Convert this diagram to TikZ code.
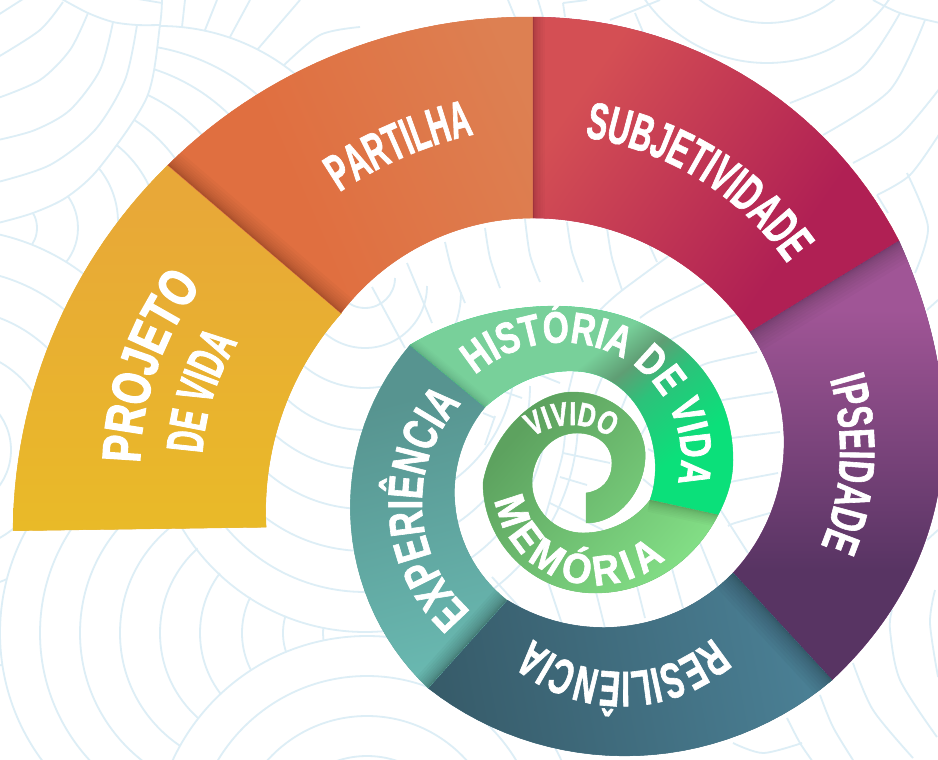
\documentclass[tikz,border=0pt]{standalone}
\usepackage{fontspec}
\usetikzlibrary{decorations.text}
\newfontfamily\fPro[FakeStretch=0.74,FakeBold=2.4,UprightFont=* Bold]{Liberation Sans}
\newfontfamily\fDev[FakeStretch=0.56,FakeBold=1.6,UprightFont=* Bold]{Liberation Sans}
\newfontfamily\fPar[FakeStretch=0.56,FakeBold=1.3,UprightFont=* Bold]{Liberation Sans}
\newfontfamily\fSub[FakeStretch=0.59,FakeBold=1.2,UprightFont=* Bold]{Liberation Sans}
\newfontfamily\fIps[FakeStretch=0.63,FakeBold=1.2,UprightFont=* Bold]{Liberation Sans}
\newfontfamily\fRes[FakeStretch=0.62,FakeBold=1.2,UprightFont=* Bold]{Liberation Sans}
\newfontfamily\fExp[FakeStretch=0.70,FakeBold=1.3,UprightFont=* Bold]{Liberation Sans}
\newfontfamily\fHis[FakeStretch=0.76,FakeBold=1.6,UprightFont=* Bold]{Liberation Sans}
\newfontfamily\fMem[FakeStretch=0.90,FakeBold=1.6,UprightFont=* Bold]{Liberation Sans}
\newfontfamily\fViv[FakeStretch=0.74,FakeBold=1.6,UprightFont=* Bold]{Liberation Sans}
\definecolor{bgl}{HTML}{DDEEF6}
\tikzset{bgline/.style={draw=bgl,line width=1.8pt}}
\newcommand\mkgrad[3]{\definecolor{g#1a}{HTML}{#2}\definecolor{g#1b}{HTML}{#3}%
 \pgfdeclarehorizontalshading{#1}{100bp}{color(0bp)=(g#1a);color(41.67bp)=(g#1a);color(58.33bp)=(g#1b);color(100bp)=(g#1b)}}
\mkgrad{gA}{E8A838}{E9BA28}
\mkgrad{gB}{E06F40}{DD8052}
\mkgrad{gC}{D44F54}{B02054}
\mkgrad{gD}{A05596}{583463}
\mkgrad{gE}{365A68}{4A7F94}
\mkgrad{gF}{579490}{69B8B0}
\mkgrad{gH}{5DA25F}{83DF86}
\definecolor{hA}{HTML}{78D09A}\definecolor{hB}{HTML}{5F9E74}\definecolor{hC}{HTML}{2CC27A}\definecolor{hD}{HTML}{0BE07A}
\definecolor{ggGa}{HTML}{78D09A}\definecolor{ggGb}{HTML}{0BE07A}
\pgfdeclarehorizontalshading{gG}{100bp}{color(0bp)=(hA);color(41.67bp)=(hA);color(48.2bp)=(hA);color(50.6bp)=(hB);color(53.2bp)=(hC);color(58.33bp)=(hD);color(100bp)=(hD)}
% polar helper: centre, r0, r1, angle0, angle1 (screen clockwise)
\def\pol#1#2#3#4#5#6{plot[domain=#5:#6,samples=30] ({#1+(#3+(#4-#3)*(\noexpand\x-(#5))/((#6)-(#5)))*cos(\noexpand\x)},{#2+(#3+(#4-#3)*(\noexpand\x-(#5))/((#6)-(#5)))*sin(\noexpand\x)})}
\edef\pA{\pol{533}{528}{520}{514.8}{179.7}{224.8} -- \pol{560}{520}{301}{294}{223.4}{178.6} -- cycle}
\edef\pB{\pol{533}{528}{514.8}{511}{224.8}{270} -- \pol{533}{459.5}{241.5}{241.5}{270}{217.3} -- cycle}
\edef\pC{\pol{533}{429}{412}{411.5}{270}{332.8} -- \pol{533}{481.5}{263.5}{263.5}{325.4}{270} -- cycle}
\edef\pD{(899,241) .. controls (975,410) and (955,565) .. (832,680) -- \pol{590}{450}{188.6}{198.8}{40.7}{-36.4} -- cycle}
\edef\pE{\pol{622}{436}{322}{318}{49.3}{127.6} -- \pol{606}{445.5}{183.5}{180}{122.6}{45.1} -- cycle}
\edef\pF{\pol{600}{510}{247.5}{251.6}{134}{221} -- \pol{590}{490}{133.8}{138}{218.3}{127} -- cycle}
\def\pG{(410,345) .. controls (465,312) and (530,303) .. (575,307) .. controls (660,313) and (733,370) .. (733,460) .. controls (733,480) and (727,498) .. (718,515) -- (650,500) .. controls (668,450) and (640,372) .. (573,371) .. controls (540,370) and (510,385) .. (485,407) -- cycle}
\def\pH{(718,515) .. controls (695,560) and (650,593) .. (595,593) .. controls (533,593) and (483,543) .. (483,483) .. controls (490,440) and (530,392) .. (573,392) .. controls (615,392) and (648,425) .. (645,460) .. controls (643,490) and (620,523) .. (586,523) -- (586,493) .. controls (602,491) and (612,480) .. (612,463) .. controls (612,445) and (597,433) .. (577,433) .. controls (552,433) and (532,455) .. (532,483) .. controls (532,510) and (555,533) .. (583,533) .. controls (610,533) and (635,520) .. (650,500) -- cycle}
\newcommand\band[6]{%
 \pgfmathsetmacro\gL{veclen(#5-#3,#6-#4)}\pgfmathsetmacro\gAng{atan2(-(#6-#4),#5-#3)}%
 \fill[g#2a!50!g#2b,draw=g#2a!50!g#2b,line width=.4pt] #1;%
 \clip #1;
 \shade[shading=#2,transform canvas={rotate around={\gAng:(#3,#4)}}] ({#3-\gL},{#4-1100}) rectangle ({#3+2*\gL},{#4+1100});%
}
\newcommand\seam[6]{%
 \pgfmathsetmacro\sL{veclen(#3-#1,#4-#2)}%
 \foreach \si in {1,...,12}{%
  \pgfmathsetmacro\sW{#5*\si*\si/144/\sL}%
  \pgfmathsetmacro\sX{-(#4-#2)*\sW}\pgfmathsetmacro\sY{(#3-#1)*\sW}%
  \fill[black,opacity=#6] (#1,#2) -- (#3,#4) -- ({#3+\sX},{#4+\sY}) -- ({#1+\sX},{#2+\sY}) -- cycle;}%
}
% label along a spiral: cx cy r0 r1 a b size font text; the path runs 40px past both ends
\newcommand\spiT[9]{%
 \pgfmathsetmacro\dExt{sign(#6-#5)*2300/(#3+#4)*2}%
 \pgfmathsetmacro\dA{#5-\dExt}\pgfmathsetmacro\dB{#6+\dExt}%
 \path[decorate,decoration={text along path,text align=center,
  text={|#8\fontsize{#7}{#7}\selectfont\color{white}|#9}}]
  plot[domain=\dA:\dB,samples=50] ({#1+(#3+(#4-#3)*(\x-#5)/(#6-#5))*cos(\x)},{#2+(#3+(#4-#3)*(\x-#5)/(#6-#5))*sin(\x)});}
\newcommand\ringdisc[4]{\fill[white] (#1,#2) circle[radius=#3];\foreach \r in {#4}{\draw[bgline] (#1,#2) circle[radius=\r];}}
\newcommand\bgc[1]{\draw[bgline] plot[smooth] coordinates {#1};}
\begin{document}
\begin{tikzpicture}[x=1pt,y=-1pt]
\useasboundingbox (0,0) rectangle (938,760);
\clip (0,0) rectangle (938,760);
\fill[white] (0,0) rectangle (938,760);
% --- background scales: top right
\ringdisc{767}{-86}{149}{109,149}
\bgc{(790,103)(860,70)(900,13)}
\bgc{(823,135)(890,90)(925,20)}
\bgc{(853,163)(900,135)(940,88)}
\bgc{(877,195)(910,175)(940,133)}
\bgc{(873,0)(900,13)(940,23)}
\bgc{(907,173)(928,227)(915,273)}
\bgc{(877,195)(888,213)}
\bgc{(610,20)(660,0)}
\bgc{(635,13)(643,32)}
\bgc{(563,3)(587,0)}
\bgc{(563,3)(565,17)}
\bgc{(538,0)(543,17)}
\bgc{(508,0)(515,17)}
\bgc{(927,310)(938,300)}
\bgc{(927,540)(938,530)}
% top middle fan
\bgc{(182,27)(185,0)}
\bgc{(205,30)(217,0)}
\bgc{(230,37)(250,0)}
\bgc{(257,50)(300,0)}
\bgc{(282,67)(320,35)(360,27)}
\begin{scope}
\clip (0,0) rectangle (300,330);
\ringdisc{160}{240}{214}{214}
\draw[bgline] (120,255) circle[radius=211];
\draw[bgline] (95,252) circle[radius=192];
\draw[bgline] (72,255) circle[radius=177];
\draw[bgline] (55,245) circle[radius=148];
\draw[bgline] (45,235) circle[radius=115];
\draw[bgline] (33,222) circle[radius=85];
\draw[bgline] (23,228) circle[radius=55];
\draw[bgline] (7,228) circle[radius=30];
\end{scope}
% top left
\fill[white] plot[smooth] coordinates {(162,-2)(160,25)(147,97)(100,167)(67,197)(33,213)(-2,223)} -- (-2,-2) -- cycle;
\bgc{(162,-2)(160,25)(147,97)(100,167)(67,197)(33,213)(-2,223)}
\bgc{(137,25)(125,80)(95,130)(50,165)(-2,182)}
\bgc{(113,22)(100,70)(70,110)(35,130)(-2,140)}
\bgc{(88,13)(70,50)(40,80)(-2,98)}
\bgc{(63,2)(40,30)(-2,57)}
\bgc{(23,-1)(-2,15)}
\bgc{(60,-2)(88,13)(113,22)(137,25)(160,25)}
\bgc{(138,-1)(162,3)}
% left
\ringdisc{-50}{450}{221}{221,181,141,101,61}
% left lens fan
\fill[white] (214,633) circle[radius=214];
\foreach \x/\R in {323/50,283/60,242/81,200/100,160/114,120/136,80/162,40/188,0/214}{
 \draw[bgline] ({\x+\R},{633-\R}) arc[start angle=-90,end angle=-270,radius=\R];
}
% central fan (lower half arcs)
\fill[white] (367,419) circle[radius=213];
\foreach \yb/\R in {632/213,592/182,551/165,509/150,469/136,430/114,388/96,348/62,308/30}{
 \draw[bgline] ({365+\R},{\yb-\R}) arc[start angle=0,end angle=180,radius=\R];
}
\ringdisc{367}{850}{214}{214,174,134,94}
% lines seen in the white gaps
\bgc{(372,287)(405,348)}
\bgc{(407,263)(432,323)}
\bgc{(445,242)(452,270)(465,303)}
\bgc{(485,228)(490,258)(500,288)}
\bgc{(525,219)(530,255)(540,282)}
\bgc{(567,222)(572,252)(583,282)}
\bgc{(607,228)(612,258)(622,290)}
\bgc{(648,242)(657,262)}
\bgc{(600,310)(620,292)(670,255)}
\bgc{(640,318)(655,308)(707,282)}
\bgc{(670,340)(685,333)(737,314)}
\bgc{(690,372)(708,363)(757,352)}
\bgc{(712,404)(723,400)(773,392)}
\bgc{(725,440)(732,438)(780,432)}
\bgc{(720,484)(730,482)(778,473)}
\bgc{(728,526)(735,523)(770,513)}
\bgc{(718,506)(748,553)}
\bgc{(698,538)(718,587)}
\bgc{(671,565)(683,608)}
\bgc{(636,582)(645,618)}
\bgc{(595,588)(605,628)}
\bgc{(548,582)(563,627)}
\bgc{(492,577)(520,608)}
\bgc{(540,375)(560,383)}
\bgc{(505,392)(522,398)}
\bgc{(483,413)(495,418)}
\bgc{(574,369)(568,393)}
\bgc{(603,375)(595,395)}
\bgc{(629,390)(620,412)}
\bgc{(649,421)(640,437)}
\bgc{(648,449)(662,456)}
\bgc{(643,479)(655,489)}
\bgc{(495,416)(485,445)}
\bgc{(565,435)(562,457)(550,500)(545,517)}
\bgc{(563,453)(610,463)}
\bgc{(560,477)(587,485)}
\bgc{(550,503)(603,530)}
% lower right
\bgc{(892,610)(890,630)(900,680)(937,737)}
\bgc{(935,590)(930,623)(938,677)}
\bgc{(853,663)(873,710)(913,758)}
\bgc{(820,695)(833,727)(853,760)}
\bgc{(787,718)(800,743)(813,762)}
\bgc{(733,743)(763,753)(802,743)}
% --- main spiral
\begin{scope}\band{\pA}{gA}{200}{200}{200}{530}\end{scope}
\begin{scope}\band{\pB}{gB}{300}{200}{530}{100}\seam{341}{313}{168}{165}{18}{.022}\end{scope}
\begin{scope}\band{\pC}{gC}{575}{100}{790}{250}\seam{533}{218}{533}{17}{12}{.02}\end{scope}
\begin{scope}\band{\pD}{gD}{800}{310}{800}{570}\seam{750}{332}{899}{241}{22}{.025}\end{scope}
\begin{scope}\band{\pE}{gE}{430}{720}{800}{650}\seam{733}{573}{832}{680}{22}{.028}\end{scope}
\begin{scope}\band{\pF}{gF}{400}{400}{470}{660}\seam{507}{600}{428}{688}{16}{.03}\end{scope}
\begin{scope}\band{\pG}{gG}{540}{290}{675}{458}\seam{485}{407}{410}{345}{9}{.012}\end{scope}
\begin{scope}
 \band{\pH}{gH}{520}{430}{680}{570}
 \seam{650}{500}{718}{515}{12}{.02}
\end{scope}
% --- labels
\spiT{440}{468}{300}{300}{181.5}{216.9}{54}{\fPro}{PROJETO}
\spiT{440}{468}{238}{238}{183.6}{211.8}{52}{\fDev}{DE VIDA}
\spiT{560}{520}{395}{395}{236.2}{257.3}{52}{\fPar}{PARTILHA}
\spiT{540}{435}{301}{301}{279.2}{324.6}{52}{\fSub}{SUBJETIVIDADE}
\spiT{590}{450}{250}{250}{-16.4}{22.6}{50}{\fIps}{IPSEIDADE}
\spiT{622}{536}{136}{136}{48.3}{130.9}{50}{\fRes}{RESILIÊNCIA}
\spiT{567}{503}{145}{145}{134.4}{220.6}{49}{\fExp}{EXPERIÊNCIA}
\spiT{575}{470}{137}{103}{227.3}{369.4}{44}{\fHis}{HISTÓRIA DE VIDA}
\path[decorate,decoration={text along path,text align={fit to path},
  text={|\fMem\fontsize{42}{42}\selectfont\color{white}|MEMÓRIA{\phantom{.}}}}]
  plot[domain=168.1:37.6,samples=50] ({590+(97+13*(\x-168.1)/(37.6-168.1))*cos(\x)},{480+(97+13*(\x-168.1)/(37.6-168.1))*sin(\x)});
\spiT{571}{492}{67}{67}{234.7}{305.9}{33}{\fViv}{VIVIDO}
\end{tikzpicture}
\end{document}
